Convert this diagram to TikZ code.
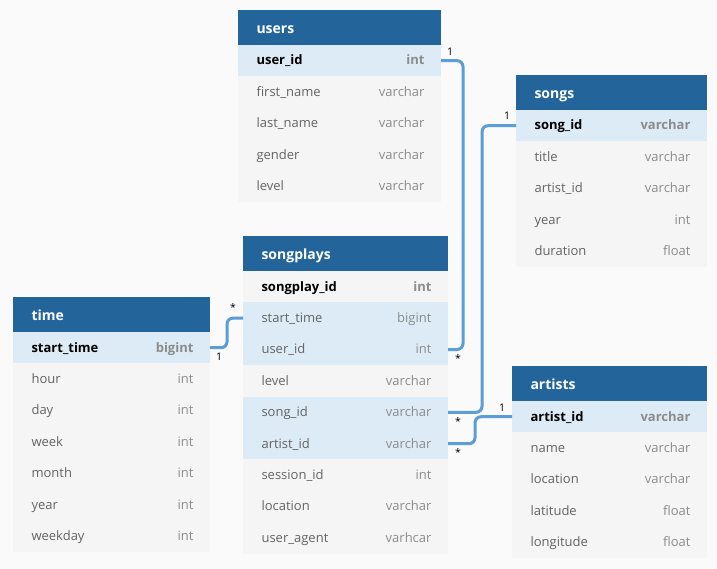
\documentclass[tikz,border=0pt]{standalone}
\usepackage{fontspec}
\setmainfont{Open Sans}
\usetikzlibrary{positioning,calc}
\definecolor{hdrblue}{RGB}{35,101,155}
\definecolor{keyblue}{RGB}{220,235,245}
\definecolor{rowgrey}{RGB}{245,245,245}
\definecolor{bggrey}{RGB}{250,250,250}
\definecolor{linkblue}{RGB}{91,157,214}
\definecolor{namegrey}{RGB}{100,100,100}
\definecolor{typegrey}{RGB}{140,140,140}
\tikzset{
  hdr/.style={fill=hdrblue, anchor=north west, minimum height=35pt, inner sep=0pt, outer sep=0pt},
  fieldrow/.style={fill=rowgrey, anchor=north west, minimum height=31.4pt, inner sep=0pt, outer sep=0pt},
  title/.style={anchor=west, text=white, font=\fontsize{14}{16}\selectfont\bfseries, xshift=15pt, text height=12.5pt, text depth=1pt},
  fname/.style={anchor=west, text=namegrey, xshift=15pt, text height=11pt, text depth=2.4pt},
  ftype/.style={anchor=east, text=typegrey, xshift=-13pt, text height=11pt, text depth=2.4pt},
  pk/.style={font=\fontsize{13}{15}\selectfont\bfseries},
  link/.style={linkblue, line width=3pt, rounded corners=6pt},
  card/.style={font=\fontsize{10.5}{12}\selectfont, inner sep=0pt}
}
\begin{document}
\begin{tikzpicture}[x=1pt, y=-1pt, font=\fontsize{13}{15}\selectfont]
    \fill[bggrey] (0,0) rectangle (717,569);
    \useasboundingbox (0,0) rectangle (717,569);

    % users
    \node[hdr, minimum width=203pt] (users) at (238,10) {};
    \node[title] at (users.west) {users};
    \node[fieldrow, fill=keyblue, minimum width=203pt] (users-1) at (238,45) {};
    \node[fname, pk, text=black] at (users-1.west) {user\_id};
    \node[ftype, pk] at (users-1.east) {int};
    \foreach \f/\t [count=\i from 2] in {first\_name/varchar, last\_name/varchar, gender/varchar, level/varchar} {
        \node[fieldrow, minimum width=203pt] (users-\i) at (238,{45+31.4*(\i-1)}) {};
        \node[fname] at (users-\i.west) {\f};
        \node[ftype] at (users-\i.east) {\t};
    }

    % songs
    \node[hdr, minimum width=191pt] (songs) at (516,75) {};
    \node[title] at (songs.west) {songs};
    \node[fieldrow, fill=keyblue, minimum width=191pt] (songs-1) at (516,110) {};
    \node[fname, pk, text=black] at (songs-1.west) {song\_id};
    \node[ftype, pk] at (songs-1.east) {varchar};
    \foreach \f/\t [count=\i from 2] in {title/varchar, artist\_id/varchar, year/int, duration/float} {
        \node[fieldrow, minimum width=191pt] (songs-\i) at (516,{110+31.4*(\i-1)}) {};
        \node[fname] at (songs-\i.west) {\f};
        \node[ftype] at (songs-\i.east) {\t};
    }

    % songplays
    \node[hdr, minimum width=205pt] (songplays) at (243,236) {};
    \node[title] at (songplays.west) {songplays};
    \node[fieldrow, minimum width=205pt] (songplays-1) at (243,271) {};
    \node[fname, pk, text=black] at (songplays-1.west) {songplay\_id};
    \node[ftype, pk] at (songplays-1.east) {int};
    \foreach \f/\t/\c [count=\i from 2] in {start\_time/bigint/keyblue, user\_id/int/keyblue, level/varchar/rowgrey, song\_id/varchar/keyblue, artist\_id/varchar/keyblue, session\_id/int/rowgrey, location/varchar/rowgrey, user\_agent/varhcar/rowgrey} {
        \node[fieldrow, fill=\c, minimum width=205pt] (songplays-\i) at (243,{271+31.4*(\i-1)}) {};
        \node[fname] at (songplays-\i.west) {\f};
        \node[ftype] at (songplays-\i.east) {\t};
    }

    % time
    \node[hdr, minimum width=197pt] (time) at (13,297) {};
    \node[title] at (time.west) {time};
    \node[fieldrow, fill=keyblue, minimum width=197pt] (time-1) at (13,332) {};
    \node[fname, pk, text=black] at (time-1.west) {start\_time};
    \node[ftype, pk] at (time-1.east) {bigint};
    \foreach \f/\t [count=\i from 2] in {hour/int, day/int, week/int, month/int, year/int, weekday/int} {
        \node[fieldrow, minimum width=197pt] (time-\i) at (13,{332+31.4*(\i-1)}) {};
        \node[fname] at (time-\i.west) {\f};
        \node[ftype] at (time-\i.east) {\t};
    }

    % artists
    \node[hdr, minimum width=195pt] (artists) at (512,366) {};
    \node[title] at (artists.west) {artists};
    \node[fieldrow, fill=keyblue, minimum width=195pt] (artists-1) at (512,401) {};
    \node[fname, pk, text=black] at (artists-1.west) {artist\_id};
    \node[ftype, pk] at (artists-1.east) {varchar};
    \foreach \f/\t [count=\i from 2] in {name/varchar, location/varchar, latitude/float, longitude/float} {
        \node[fieldrow, minimum width=195pt] (artists-\i) at (512,{401+31.4*(\i-1)}) {};
        \node[fname] at (artists-\i.west) {\f};
        \node[ftype] at (artists-\i.east) {\t};
    }

    % links
    \draw[link] (users-1.east) -- ++(22,0) |- (songplays-3.east);
    \draw[link] (songs-1.west) -- ++(-34,0) |- (songplays-5.east);
    \draw[link] (songplays-6.east) -- ++(27,0) |- (artists-1.west);
    \draw[link] (time-1.east) -- ++(17,0) |- (songplays-2.west);

    \node[card] at ([shift={(9,-9)}]users-1.east) {1};
    \node[card] at ([shift={(10,9)}]songplays-3.east) {*};
    \node[card] at ([shift={(-9,-10)}]songs-1.west) {1};
    \node[card] at ([shift={(10,9)}]songplays-5.east) {*};
    \node[card] at ([shift={(-10,-9)}]artists-1.west) {1};
    \node[card] at ([shift={(10,9)}]songplays-6.east) {*};
    \node[card] at ([shift={(9,9)}]time-1.east) {1};
    \node[card] at ([shift={(-10,-11)}]songplays-2.west) {*};
\end{tikzpicture}
\end{document}
